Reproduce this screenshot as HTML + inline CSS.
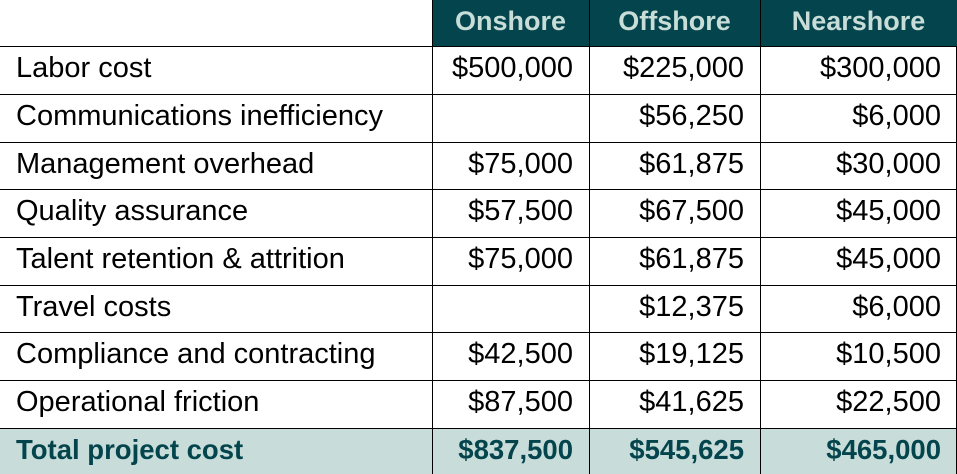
<!DOCTYPE html>
<html><head><style>
body{margin:0;width:957px;height:474px;background:#fff;position:relative;overflow:hidden;font-family:"Liberation Sans",sans-serif;}
.c{position:absolute;box-sizing:border-box;font-size:29px;color:#000;display:flex;align-items:center;white-space:nowrap;padding-bottom:3px;}
.l{padding-left:16px;}
.r{justify-content:flex-end;padding-right:16px;}
.h{background:#03444d;color:#c8ddd8;font-weight:bold;justify-content:center;font-size:27px;}
.t{background:#c8ddd9;color:#03444d;font-weight:bold;font-size:27.5px;}
.hl{position:absolute;left:0;width:957px;height:1px;background:#000;}
.vl{position:absolute;width:1px;background:#000;}
</style></head><body>
<div class="c h" style="left:432px;top:0;width:157px;height:46px">Onshore</div>
<div class="c h" style="left:589px;top:0;width:171px;height:46px">Offshore</div>
<div class="c h" style="left:760px;top:0;width:197px;height:46px">Nearshore</div>
<div id="rows"></div>
<script>
var tops=[46,94,142,189,237,285,332,380,428,474];
var data=[["Labor cost","$500,000","$225,000","$300,000"],
["Communications inefficiency","","$56,250","$6,000"],
["Management overhead","$75,000","$61,875","$30,000"],
["Quality assurance","$57,500","$67,500","$45,000"],
["Talent retention &amp; attrition","$75,000","$61,875","$45,000"],
["Travel costs","","$12,375","$6,000"],
["Compliance and contracting","$42,500","$19,125","$10,500"],
["Operational friction","$87,500","$41,625","$22,500"],
["Total project cost","$837,500","$545,625","$465,000"]];
var xs=[0,432,589,760,957],h="";
for(var i=0;i<9;i++){var y=tops[i],hh=tops[i+1]-y,t=i==8?" t":"";
for(var j=0;j<4;j++){h+='<div class="c '+(j==0?'l':'r')+t+'" style="left:'+xs[j]+'px;top:'+y+'px;width:'+(xs[j+1]-xs[j])+'px;height:'+hh+'px">'+data[i][j]+'</div>';}
h+='<div class="hl" style="top:'+y+'px"></div>';}
h+='<div class="vl" style="left:432px;top:0;height:474px"></div><div class="vl" style="left:589px;top:0;height:474px"></div><div class="vl" style="left:760px;top:0;height:474px"></div><div class="vl" style="left:956px;top:46px;height:428px"></div>';
document.getElementById("rows").innerHTML=h;
</script>
</body></html>
